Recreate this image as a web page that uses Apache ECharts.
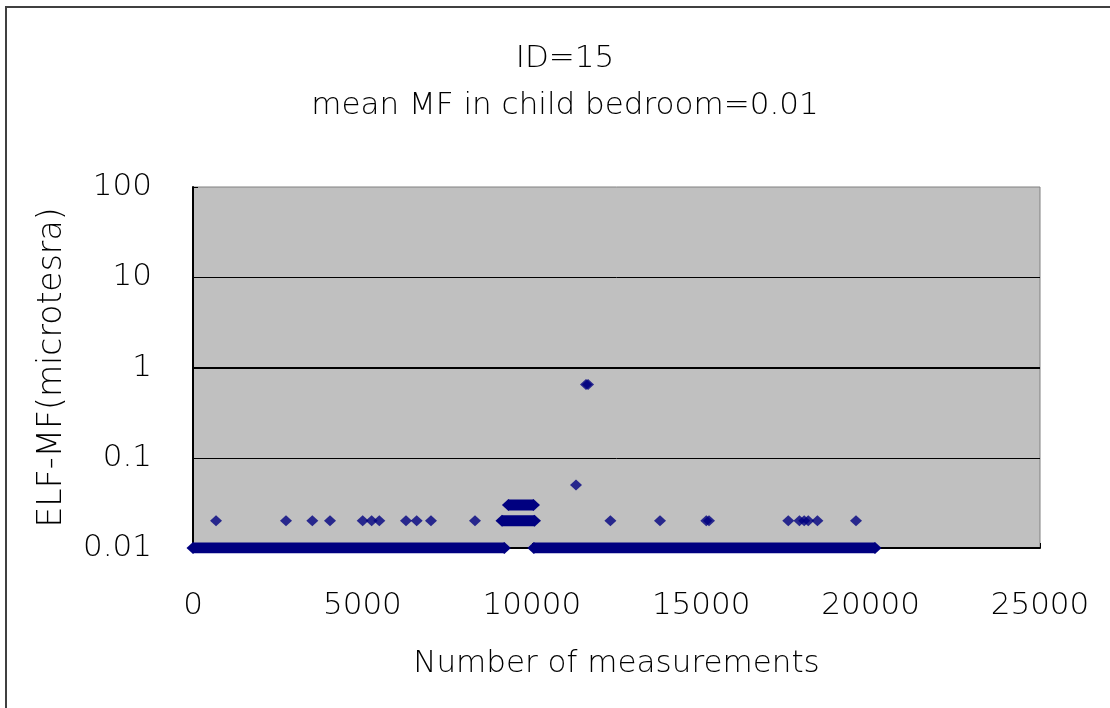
<!DOCTYPE html>
<html>
<head>
<meta charset="utf-8">
<script src="https://cdn.jsdelivr.net/npm/echarts@6/dist/echarts.min.js"></script>
<style>
html,body{margin:0;padding:0;background:#fff;}
#chart{width:1110px;height:708px;}
</style>
</head>
<body>
<div id="chart"></div>
<script>
// ---- data ----
const titleLines = ['ID=15', 'mean MF in child bedroom=0.01'];
const xAxisName = 'Number of measurements';
const yAxisName = 'ELF-MF(microtesra)';
const xTicks = [0, 5000, 10000, 15000, 20000, 25000];
const yTicks = [0.01, 0.1, 1, 10, 100];

// isolated measurements (x = measurement index, y = MF in microtesla)
const pointX = [680, 2745, 3522, 4044, 5008, 5273, 5499, 6287, 6602, 7024, 8323,
                11305, 11600, 11660, 12320, 13784, 15150, 15230,
                17570, 17900, 18040, 18160, 18430, 19569];
const pointY = [0.02, 0.02, 0.02, 0.02, 0.02, 0.02, 0.02, 0.02, 0.02, 0.02, 0.02,
                0.05, 0.65, 0.65, 0.02, 0.02, 0.02, 0.02,
                0.02, 0.02, 0.02, 0.02, 0.02, 0.02];

// dense runs of consecutive measurements at one value
const runStart = [0, 10060, 9120, 9310];
const runEnd   = [9190, 20130, 10080, 10050];
const runValue = [0.01, 0.01, 0.02, 0.03];

// ---- build chart ----
const NAVY = '#000080';
const FONT = 'DejaVu Sans';
const W = 200;
const series = [];
runStart.forEach((s, i) => {
  series.push({
    type: 'line',
    data: [[s, runValue[i]], [runEnd[i], runValue[i]]],
    symbol: 'diamond',
    symbolSize: [13, 12],
    showSymbol: true,
    lineStyle: { color: NAVY, width: 11 },
    itemStyle: { color: NAVY },
    silent: true,
    z: 3
  });
});
series.push({
  type: 'scatter',
  data: pointX.map((x, i) => [x, pointY[i]]),
  symbol: 'diamond',
  symbolSize: [12, 11],
  itemStyle: { color: NAVY },
  silent: true,
  z: 4,
  markLine: {
    silent: true,
    symbol: 'none',
    label: { show: false },
    lineStyle: { color: '#000', width: 2, type: 'solid' },
    data: [{ yAxis: 1 }],
    z: 2
  }
});

const chart = echarts.init(document.getElementById('chart'));
chart.setOption({
  animation: false,
  backgroundColor: '#ffffff',
  textStyle: { fontFamily: FONT, fontWeight: W },
  title: {
    text: titleLines.join('\n'),
    left: 560,
    textAlign: 'center',
    top: 30,
    textStyle: { fontFamily: FONT, fontSize: 31, fontWeight: W, color: '#000', lineHeight: 47 }
  },
  graphic: [{
    type: 'rect',
    shape: { x: 6, y: 7, width: 1120, height: 720 },
    style: { fill: 'none', stroke: '#404040', lineWidth: 2 },
    silent: true,
    z: 100
  }],
  grid: {
    left: 193, top: 187, right: 70, bottom: 160,
    show: true, backgroundColor: '#C0C0C0', borderColor: '#808080', borderWidth: 1
  },
  xAxis: {
    type: 'value',
    min: xTicks[0], max: xTicks[xTicks.length - 1], interval: 5000,
    name: xAxisName, nameLocation: 'middle', nameGap: 100,
    nameTextStyle: { fontFamily: FONT, fontSize: 31, fontWeight: W, color: '#000', lineHeight: 31 },
    axisLine: { show: true, lineStyle: { color: '#000', width: 2 } },
    axisTick: { show: true, inside: true, length: 5, lineStyle: { color: '#000' } },
    axisLabel: {
      fontFamily: FONT, fontSize: 31, fontWeight: W, color: '#000', margin: 42, lineHeight: 31,
      formatter: v => String(v)
    },
    splitLine: { show: false }
  },
  yAxis: {
    type: 'log', logBase: 10,
    min: yTicks[0], max: yTicks[yTicks.length - 1],
    name: yAxisName, nameLocation: 'middle', nameGap: 124, nameRotate: 90,
    nameTextStyle: { fontFamily: FONT, fontSize: 33, fontWeight: W, color: '#000' },
    axisLine: { show: true, lineStyle: { color: '#000', width: 2 } },
    axisTick: { show: true, inside: true, length: 5, lineStyle: { color: '#000' } },
    axisLabel: {
      fontFamily: FONT, fontSize: 31, fontWeight: W, color: '#000', margin: 41,
      padding: [6, 0, 0, 0],
      formatter: v => String(parseFloat(v.toPrecision(6)))
    },
    splitLine: { show: true, showMaxLine: false, showMinLine: false, lineStyle: { color: '#000', width: 1 } }
  },
  series: series
});
</script>
</body>
</html>
